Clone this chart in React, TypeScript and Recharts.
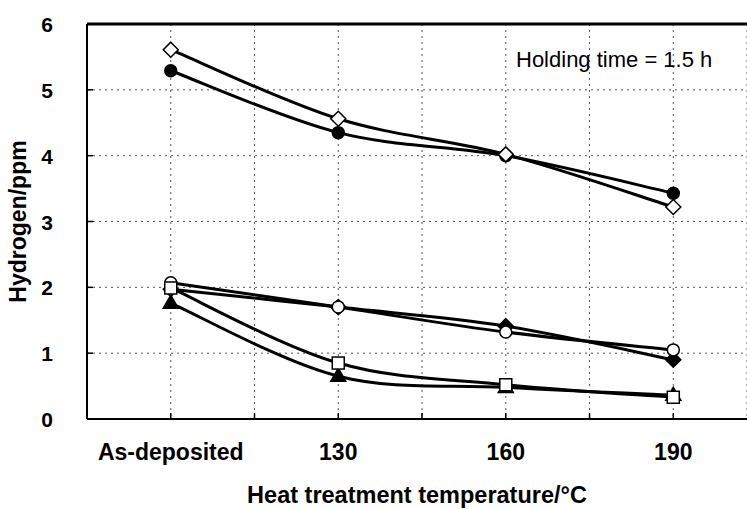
import { LineChart, Line, XAxis, YAxis, CartesianGrid, ReferenceLine } from "recharts";

// x positions: 0 = As-deposited, 1 = 130, 2 = 160, 3 = 190 (°C)
const categories = ["As-deposited", "130", "160", "190"];
const yTicks = [0, 1, 2, 3, 4, 5, 6];
const xTicks = [0, 0.5, 1, 1.5, 2, 2.5, 3];

const openDiamond = [5.61, 4.56, 4.02, 3.22];
const filledCircle = [5.29, 4.35, 4.0, 3.43];
const openCircle = [2.07, 1.7, 1.32, 1.05];
const filledDiamond = [1.97, 1.7, 1.41, 0.9];
const openSquare = [1.99, 0.85, 0.52, 0.33];
const filledTriangle = [1.76, 0.65, 0.48, 0.36];

const data = categories.map((c, i) => ({
  x: i,
  label: c,
  s1: openDiamond[i],
  s2: filledCircle[i],
  s3: openCircle[i],
  s4: filledDiamond[i],
  s5: openSquare[i],
  s6: filledTriangle[i],
}));

type Shape = "diamond" | "circle" | "square" | "triangle";

const series: { key: string; shape: Shape; filled: boolean }[] = [
  { key: "s2", shape: "circle", filled: true },
  { key: "s1", shape: "diamond", filled: false },
  { key: "s4", shape: "diamond", filled: true },
  { key: "s3", shape: "circle", filled: false },
  { key: "s6", shape: "triangle", filled: true },
  { key: "s5", shape: "square", filled: false },
];

const FONT = "'Liberation Sans', Arial, sans-serif";

// Excel-like smoothing (uniform Catmull-Rom), written as a d3 curve factory
const smooth = (ctx: any) => {
  let pts: number[][] = [];
  return {
    areaStart() {},
    areaEnd() {},
    lineStart() {
      pts = [];
    },
    point(x: number, y: number) {
      pts.push([+x, +y]);
    },
    lineEnd() {
      if (!pts.length) return;
      ctx.moveTo(pts[0][0], pts[0][1]);
      for (let i = 0; i < pts.length - 1; i++) {
        const p0 = pts[Math.max(i - 1, 0)];
        const p1 = pts[i];
        const p2 = pts[i + 1];
        const p3 = pts[Math.min(i + 2, pts.length - 1)];
        ctx.bezierCurveTo(
          p1[0] + (p2[0] - p0[0]) / 6,
          p1[1] + (p2[1] - p0[1]) / 6,
          p2[0] - (p3[0] - p1[0]) / 6,
          p2[1] - (p3[1] - p1[1]) / 6,
          p2[0],
          p2[1]
        );
      }
    },
  };
};

function marker(shape: Shape, filled: boolean) {
  return (props: any) => {
    const { cx, cy, index } = props;
    const fill = filled ? "#000" : "#fff";
    const k = `${shape}-${filled}-${index}`;
    if (cx == null || cy == null) return <g key={k} />;
    if (shape === "circle")
      return <circle key={k} cx={cx} cy={cy} r={6} fill={fill} stroke="#000" strokeWidth={1.5} />;
    if (shape === "square")
      return <rect key={k} x={cx - 6} y={cy - 6} width={12} height={12} fill={fill} stroke="#000" strokeWidth={1.5} />;
    if (shape === "triangle")
      return (
        <polygon key={k} points={`${cx},${cy - 8} ${cx + 7.5},${cy + 5} ${cx - 7.5},${cy + 5}`} fill={fill} stroke="#000" strokeWidth={1.5} />
      );
    return (
      <polygon key={k} points={`${cx},${cy - 7.5} ${cx + 7.5},${cy} ${cx},${cy + 7.5} ${cx - 7.5},${cy}`} fill={fill} stroke="#000" strokeWidth={1.5} />
    );
  };
}

const YTick = (props: any) => {
  const { y, payload } = props;
  return (
    <g>
      <line x1={87} x2={93} y1={y} y2={y} stroke="#000" strokeWidth={1.5} />
      <text x={53} y={y} dy={8} textAnchor="end" fontFamily={FONT} fontWeight="bold" fontSize={21} fill="#000">
        {payload.value}
      </text>
    </g>
  );
};

const XTick = (props: any) => {
  const { x, payload } = props;
  const v = payload.value as number;
  const isCat = Number.isInteger(v);
  return (
    <g>
      <line x1={x} x2={x} y1={419} y2={413} stroke="#000" strokeWidth={1.5} />
      {isCat && (
        <text x={x} y={460} textAnchor="middle" fontFamily={FONT} fontWeight="bold" fontSize={23} fill="#000">
          {categories[v]}
        </text>
      )}
    </g>
  );
};

export default function App() {
  return (
    <div style={{ position: "absolute", left: 0, top: 0, background: "#fff" }}>
      <LineChart width={747} height={509} data={data} margin={{ top: 24, right: 0, bottom: 0, left: 0 }}>
        <CartesianGrid stroke="#555" strokeDasharray="2 4" />
        <XAxis
          dataKey="x"
          type="number"
          domain={[-0.5, 3.44]}
          ticks={xTicks}
          allowDataOverflow
          height={90}
          tick={<XTick />}
          tickLine={false}
          axisLine={{ stroke: "#000", strokeWidth: 2 }}
          interval={0}
          label={{
            value: "Heat treatment temperature/°C",
            position: "insideBottom",
            offset: 6,
            style: { fontFamily: FONT, fontWeight: "bold", fontSize: 23.5, fill: "#000" },
          }}
        />
        <YAxis
          type="number"
          domain={[0, 6]}
          ticks={yTicks}
          width={87}
          tick={<YTick />}
          tickLine={false}
          interval={0}
          axisLine={{ stroke: "#000", strokeWidth: 2 }}
          label={{
            value: "Hydrogen/ppm",
            angle: -90,
            position: "insideLeft",
            offset: 18,
            style: { fontFamily: FONT, fontWeight: "bold", fontSize: 23, fill: "#000", textAnchor: "middle" },
          }}
        />
        <ReferenceLine y={6} stroke="#000" strokeWidth={3} />
        {series.map((s) => (
          <Line
            key={s.key}
            dataKey={s.key}
            type={smooth as any}
            stroke="#000"
            strokeWidth={3}
            dot={marker(s.shape, s.filled)}
            activeDot={false}
            isAnimationActive={false}
          />
        ))}
        <text x={516} y={67} fontFamily={FONT} fontSize={22} fill="#000">
          Holding time = 1.5 h
        </text>
      </LineChart>
    </div>
  );
}
